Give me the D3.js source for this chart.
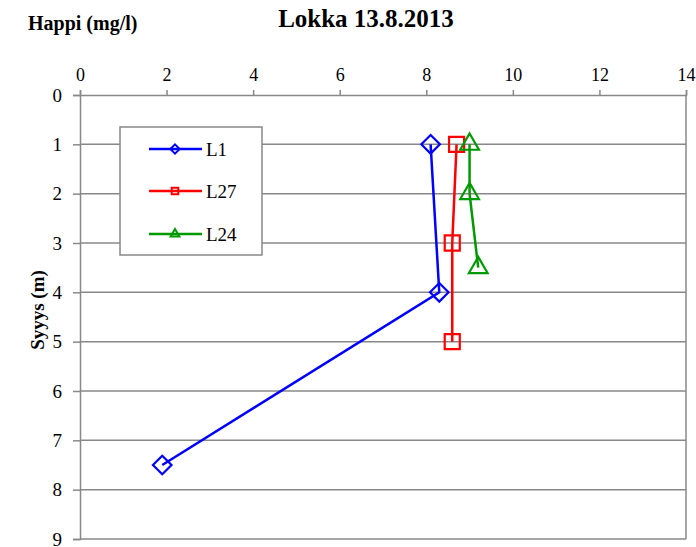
<!DOCTYPE html>
<html>
<head>
<meta charset="utf-8">
<script src="https://cdn.jsdelivr.net/npm/d3@7"></script>
<style>
  html, body { margin: 0; padding: 0; background: #fff; }
  svg text { font-family: 'Liberation Serif', 'Times New Roman', serif; }
</style>
</head>
<body>
<svg id="chart" width="696" height="547"></svg>
<script>
// Dissolved oxygen profiles, Lokka 13.8.2013
const seriesNames = ["L1", "L27", "L24"];
const seriesColors = ["#0000ff", "#ff0000", "#009900"];
const seriesSymbols = ["diamond", "square", "triangle"];
const oxygenL1 = [8.1, 8.3, 1.9];
const depthL1 = [1, 4, 7.5];
const oxygenL27 = [8.7, 8.6, 8.6];
const depthL27 = [1, 3, 5];
const oxygenL24 = [9.0, 9.0, 9.2];
const depthL24 = [1, 2, 3.5];
const xTicks = [0, 2, 4, 6, 8, 10, 12, 14];
const yTicks = [0, 1, 2, 3, 4, 5, 6, 7, 8, 9];

const series = [
  { name: seriesNames[0], x: oxygenL1, y: depthL1 },
  { name: seriesNames[1], x: oxygenL27, y: depthL27 },
  { name: seriesNames[2], x: oxygenL24, y: depthL24 }
].map((s, i) => ({ ...s, color: seriesColors[i], symbol: seriesSymbols[i],
  points: s.x.map((v, j) => [v, s.y[j]]) }));

const serif = "'Liberation Serif', 'Times New Roman', serif";
const svg = d3.select("#chart");
const plot = { left: 80, right: 686, top: 95, bottom: 539 };

const x = d3.scaleLinear().domain([0, 14]).range([plot.left, plot.right]);
const y = d3.scaleLinear().domain([0, 9]).range([plot.top, plot.bottom]);
const gridColor = "#888";

// horizontal gridlines
svg.append("g").selectAll("line").data(yTicks.slice(1)).join("line")
  .attr("x1", plot.left).attr("x2", plot.right)
  .attr("y1", d => y(d)).attr("y2", d => y(d))
  .attr("stroke", gridColor).attr("stroke-width", 1.5);

// right border
svg.append("line").attr("x1", plot.right).attr("x2", plot.right)
  .attr("y1", plot.top).attr("y2", plot.bottom)
  .attr("stroke", gridColor).attr("stroke-width", 1.5);

// top axis
const xAxis = svg.append("g").attr("transform", `translate(0,${plot.top})`)
  .call(d3.axisTop(x).tickValues(xTicks).tickSize(5).tickSizeOuter(5).tickPadding(9).tickFormat(d3.format("d")));
// left axis
const yAxis = svg.append("g").attr("transform", `translate(${plot.left},0)`)
  .call(d3.axisLeft(y).tickValues(yTicks).tickSize(7).tickSizeOuter(7).tickPadding(11).tickFormat(d3.format("d")));

[xAxis, yAxis].forEach(a => {
  a.attr("font-family", serif);
  a.select(".domain").attr("stroke", gridColor).attr("stroke-width", 1.5);
  a.selectAll(".tick line").attr("stroke", gridColor).attr("stroke-width", 1.5);
  a.selectAll(".tick text").attr("fill", "#000").attr("font-family", serif).attr("font-size", 19);
});
xAxis.selectAll(".tick text").attr("font-size", 18);

// series
const line = d3.line().x(d => x(d[0])).y(d => y(d[1]));
const symbolSizes = { diamond: 220, square: 289, triangle: 250 };
const symbolTypes = { diamond: d3.symbolDiamond2, square: d3.symbolSquare2, triangle: d3.symbolTriangle2 };

series.forEach(s => {
  const g = svg.append("g");
  g.append("path").datum(s.points).attr("d", line)
    .attr("fill", "none").attr("stroke", s.color).attr("stroke-width", 2.5);
  g.selectAll("path.m").data(s.points).join("path").attr("class", "m")
    .attr("transform", d => `translate(${x(d[0])},${y(d[1])})`)
    .attr("d", d3.symbol().type(symbolTypes[s.symbol]).size(symbolSizes[s.symbol]))
    .attr("fill", "none").attr("stroke", s.color).attr("stroke-width", 2.2);
});

// legend
const legend = svg.append("g");
legend.append("rect").attr("x", 120).attr("y", 127).attr("width", 142).attr("height", 128)
  .attr("fill", "#fff").attr("stroke", gridColor).attr("stroke-width", 1.5);
const rowY = [149, 191, 234];
series.forEach((s, i) => {
  const r = legend.append("g").attr("transform", `translate(0,${rowY[i]})`);
  r.append("line").attr("x1", 149).attr("x2", 202).attr("stroke", s.color).attr("stroke-width", 2.5);
  r.append("path").attr("transform", "translate(175,0)")
    .attr("d", d3.symbol().type(symbolTypes[s.symbol]).size(55))
    .attr("fill", "none").attr("stroke", s.color).attr("stroke-width", 2);
  r.append("text").attr("x", 206).attr("y", 7).attr("font-family", serif)
    .attr("font-size", 19).text(s.name);
});

// titles
svg.append("text").attr("x", 366).attr("y", 27).attr("text-anchor", "middle").attr("font-family", serif)
  .attr("font-size", 25).attr("font-weight", "bold").text("Lokka 13.8.2013");
svg.append("text").attr("x", 28).attr("y", 30).attr("font-family", serif)
  .attr("font-size", 20).attr("font-weight", "bold").text("Happi (mg/l)");
svg.append("text").attr("transform", "translate(44,310) rotate(-90)").attr("text-anchor", "middle")
  .attr("font-family", serif).attr("font-size", 19).attr("font-weight", "bold").text("Syyys (m)");
</script>
</body>
</html>
